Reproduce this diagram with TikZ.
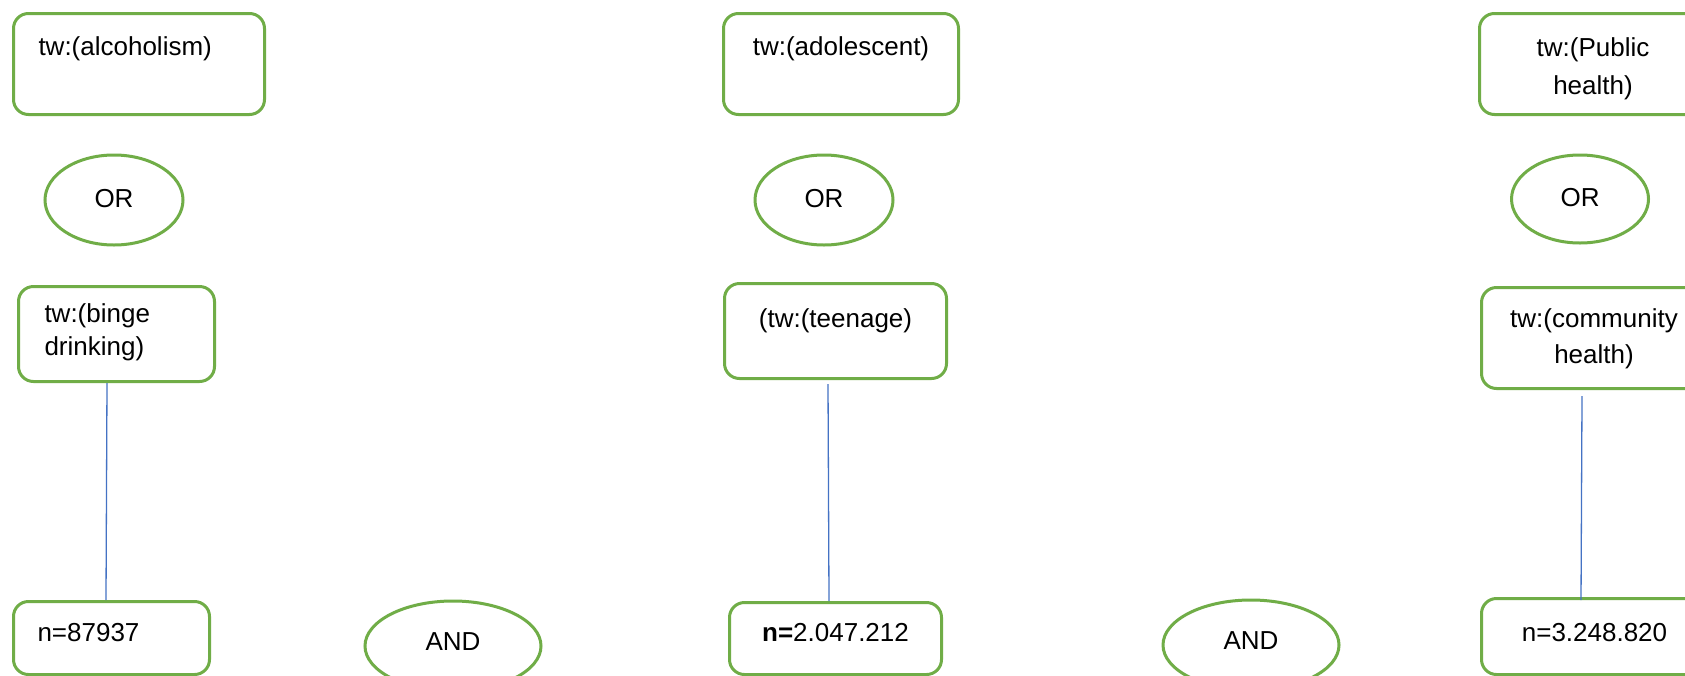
\documentclass[tikz,border=0pt]{standalone}
\usepackage{fontspec}
\setmainfont{Liberation Sans}
\usetikzlibrary{shapes.geometric,calc}
\definecolor{grn}{HTML}{70AD47}
\definecolor{lnk}{HTML}{4472C4}
\tikzset{
  term/.style={draw=grn, line width=3pt, rounded corners=15pt, inner ysep=0pt,
    anchor=north west, font=\fontsize{26}{34}\selectfont},
  lterm/.style={term, align=left},
  cterm/.style={term, align=center, inner xsep=0pt},
  oper/.style={draw=grn, line width=3pt, ellipse, inner sep=0pt,
    font=\fontsize{26}{34}\selectfont, text height=19pt},
  link/.style={draw=lnk, line width=1.3pt}
}
\begin{document}
\begin{tikzpicture}[x=1pt,y=-1pt]
\clip (0,0) rectangle (1685,675);
\fill[white] (0,0) rectangle (1685,675);

% first column
\node[lterm, inner xsep=25pt, text width=201pt, text height=42pt, text depth=59pt]
  (alc) at (12,12) {tw:(alcoholism)};
\node[oper, text depth=5pt, minimum width=138pt, minimum height=90pt] (or1) at (114,200) {OR};
\node[lterm, inner xsep=26pt, text width=144pt, text height=36pt, text depth=59pt,
  font=\fontsize{26}{33}\selectfont]
  (binge) at (17,285) {tw:(binge\\drinking)};
\node[lterm, inner xsep=24pt, text width=148pt, text height=40pt, text depth=33pt]
  (n1) at (12,600) {n=87937};
\node[oper, text depth=10pt, minimum width=176pt, minimum height=90pt] (and1) at (453,646) {AND};

% second column
\node[cterm, text width=235pt, text height=42pt, text depth=59pt]
  (adol) at (722,12) {tw:(adolescent)};
\node[oper, text depth=5pt, minimum width=138pt, minimum height=90pt] (or2) at (824,200) {OR};
\node[cterm, text width=222pt, text height=44pt, text depth=51pt]
  (teen) at (723,282) {(tw:(teenage)};
\node[cterm, text width=212pt, text height=39pt, text depth=33pt]
  (n2) at (728,601) {\textbf{n=}2.047.212};
\node[oper, text depth=10pt, minimum width=176pt, minimum height=90pt] (and2) at (1251,645) {AND};

% third column
\node[cterm, text width=227pt, text height=43pt, text depth=58pt,
  font=\fontsize{26}{38}\selectfont]
  (pub) at (1478,12) {tw:(Public\\health)};
\node[oper, text depth=5pt, minimum width=137pt, minimum height=88pt] (or3) at (1580,199) {OR};
\node[cterm, text width=225pt, text height=40pt, text depth=61pt,
  font=\fontsize{26}{36}\selectfont]
  (comm) at (1480,286) {tw:(community\\health)};
\node[cterm, text width=226pt, text height=43pt, text depth=33pt]
  (n3) at (1480,597) {n=3.248.820};

% connectors
\draw[link] ($(binge.south west)+(90,0)$) -- ($(n1.north west)+(94,0)$);
\draw[link] ($(teen.south west)+(105,4)$) -- ($(n2.north west)+(101,0)$);
\draw[link] ($(comm.south west)+(102,6)$) -- ($(n3.north west)+(101,3)$);
\end{tikzpicture}
\end{document}
